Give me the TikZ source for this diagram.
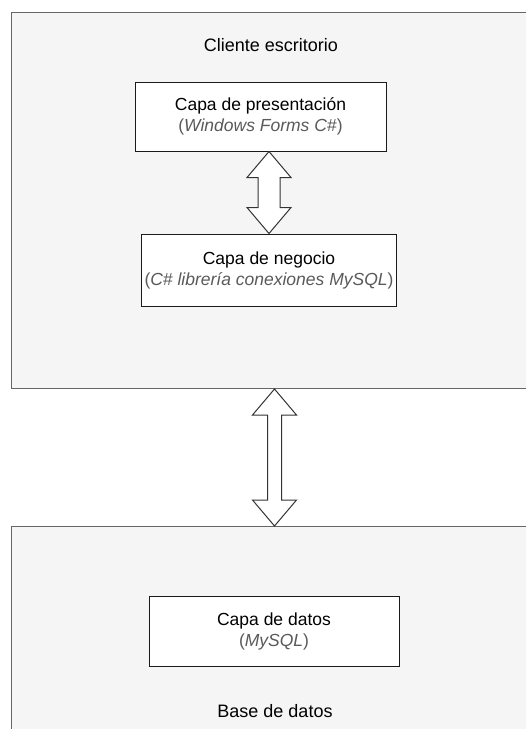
\documentclass[tikz,border=0pt]{standalone}
\usepackage{fontspec}
\setmainfont{Liberation Sans}
\usepackage{tikz}
\usetikzlibrary{calc}
\definecolor{zonefill}{HTML}{F5F5F5}
\definecolor{zoneline}{HTML}{666666}
\definecolor{boxline}{HTML}{1A1A1A}
\definecolor{txtdark}{HTML}{000000}
\definecolor{txtgrey}{HTML}{5A5A5A}
\definecolor{arrline}{HTML}{333333}
\tikzset{
  zone/.style = {rectangle, draw=zoneline, fill=zonefill, line width=1pt,
                 anchor=north west, inner sep=0pt},
  capa/.style = {rectangle, draw=boxline, fill=white, line width=1pt,
                 align=center, text=txtdark, font=\fontsize{17.5}{21}\selectfont},
  zlbl/.style = {anchor=base, text=txtdark, inner sep=0pt,
                 font=\fontsize{18}{21}\selectfont},
  dbl/.style  = {draw=arrline, fill=white, line width=1pt, line join=miter},
}
\newcommand{\capasub}[1]{\textcolor{txtgrey}{(\textit{#1})}}
% hollow double arrow: from, to, shaft half-width, head half-width, head length
\newcommand{\dblarrow}[5]{%
  \draw[dbl] let \p1 = (#1), \p2 = (#2) in
    (\x2,\y1) -- ++(#4,-#5) -- ++({#3-#4},0pt) -- ({\x2+#3},{\y2+#5})
    -- ++({#4-#3},0pt) -- (\x2,\y2) -- ++(-#4,#5) -- ++({#4-#3},0pt)
    -- ({\x2-#3},{\y1-#5}) -- ++({#3-#4},0pt) -- cycle;}

\begin{document}
\begin{tikzpicture}[x=1pt,y=-1pt]
  \useasboundingbox (0,0) rectangle (526,729);
  \clip (0,0) rectangle (526,729);
  \node[zone, minimum width=526pt, minimum height=376pt] (cliente) at (11,12) {};
  \node[zone, minimum width=526pt, minimum height=260pt] (base) at (11,526) {};
  \node[zlbl] (clientelbl) at (271,51.5) {Cliente escritorio};
  \node[zlbl] (baselbl) at (275,717) {Base de datos};
  \node[capa, minimum width=251pt, minimum height=69pt] (pres) at (260.5,116.5)
    {Capa de presentación\\\capasub{Windows Forms C\#}};
  \node[capa, minimum width=252pt, minimum height=72pt] (neg) at (269,270)
    {Capa de negocio\\\capasub{C\# librería conexiones MySQL}};
  \node[capa, minimum width=250pt, minimum height=70pt] (datos) at (274,631)
    {Capa de datos\\\capasub{MySQL}};
  \dblarrow{pres.south}{neg.north}{11pt}{22pt}{26pt}
  \dblarrow{cliente.south}{base.north}{7pt}{22pt}{26pt}
\end{tikzpicture}
\end{document}
